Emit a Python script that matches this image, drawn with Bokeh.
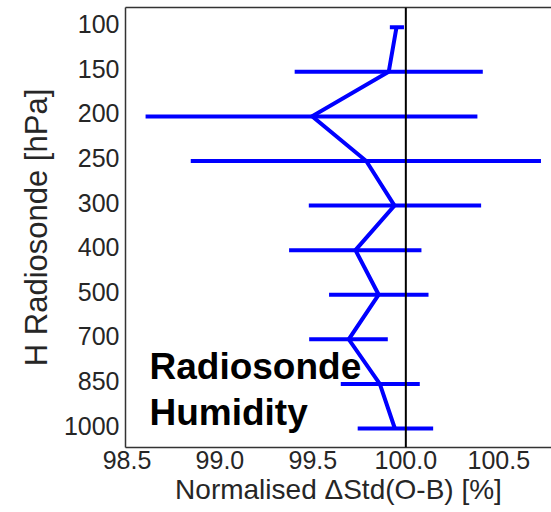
from bokeh.plotting import figure
from bokeh.models import (Range1d, FixedTicker, Span, Label, ColumnDataSource,
                          CustomJSTickFormatter, LinearAxis)
from bokeh.embed import file_html
from bokeh.resources import INLINE

# Data
levels = ["100", "150", "200", "250", "300", "400", "500", "700", "850", "1000"]
mean_vals = [99.95, 99.908, 99.496, 99.787, 99.939, 99.729, 99.854, 99.693, 99.860, 99.941]
low_vals = [99.914, 99.402, 98.60, 98.843, 99.478, 99.372, 99.587, 99.480, 99.650, 99.741]
high_vals = [99.99, 100.414, 100.385, 100.727, 100.405, 100.084, 100.122, 99.903, 100.075, 100.147]
x_ticks = [98.5, 99.0, 99.5, 100.0, 100.5]

idx = list(range(len(levels)))
src = ColumnDataSource(dict(y=idx, mean=mean_vals, low=low_vals, high=high_vals))

FONT = "Liberation Sans"
FRAME = "#333333"

p = figure(width=551, height=512, output_backend="svg", toolbar_location=None,
           x_range=Range1d(98.492, 100.7836), y_range=Range1d(9.426, -0.442),
           min_border_left=125, min_border_top=7, min_border_right=0, min_border_bottom=65)

p.background_fill_color = "white"
p.border_fill_color = "white"
p.outline_line_color = None
p.grid.visible = False

xax = p.below[0]
yax = p.left[0]

# error bars
p.segment(x0="low", x1="high", y0="y", y1="y", source=src, line_color="#0000ff", line_width=4)
# profile
p.line(x="mean", y="y", source=src, line_color="#0000ff", line_width=4, line_join="miter")

p.add_layout(Span(location=100.0, dimension="height", line_color="black", line_width=2))

for ax in (xax, yax):
    ax.axis_line_color = FRAME
    ax.axis_line_width = 1.5
    ax.major_tick_line_color = None
    ax.minor_tick_line_color = None
    ax.major_tick_out = 0
    ax.major_tick_in = 0
    ax.minor_tick_out = 0
    ax.minor_tick_in = 0
    ax.major_label_text_font = FONT
    ax.major_label_text_font_size = "25px"
    ax.major_label_text_color = "#262626"
    ax.axis_label_text_font = FONT
    ax.axis_label_text_font_style = "normal"
    ax.axis_label_text_color = "#262626"

xax.ticker = FixedTicker(ticks=x_ticks)
xax.major_label_overrides = {t: f"{t:.1f}" for t in x_ticks}
xax.axis_label = "Normalised \u0394Std(O-B) [%]"
xax.axis_label_text_font_size = "28px"
xax.major_label_standoff = 3
xax.axis_label_standoff = 2

# labels sit slightly above their level, as in the reference
yax.ticker = FixedTicker(ticks=[i - 0.067 for i in idx])
yax.formatter = CustomJSTickFormatter(args=dict(labels=levels),
                                      code="return labels[Math.round(tick)];")
yax.axis_label = "H Radiosonde [hPa]"
yax.axis_label_text_font_size = "31px"
yax.major_label_standoff = 6
yax.axis_label_standoff = 7

# top border as an empty axis
top_axis = LinearAxis(ticker=FixedTicker(ticks=[]), axis_line_color=FRAME, axis_line_width=1.5,
                      major_tick_out=0, major_tick_in=0, minor_tick_out=0, minor_tick_in=0,
                      major_tick_line_color=None, minor_tick_line_color=None,
                      major_label_standoff=0, major_label_text_font_size="0px")
p.add_layout(top_axis, "above")

p.add_layout(Label(x=98.621, y=7.62, text="Radiosonde", text_font=FONT, text_font_style="bold",
                   text_font_size="37px", text_color="black", text_baseline="alphabetic"))
p.add_layout(Label(x=98.621, y=8.65, text="Humidity", text_font=FONT, text_font_style="bold",
                   text_font_size="37px", text_color="black", text_baseline="alphabetic"))

open("out.html", "w").write(file_html(p, INLINE))
